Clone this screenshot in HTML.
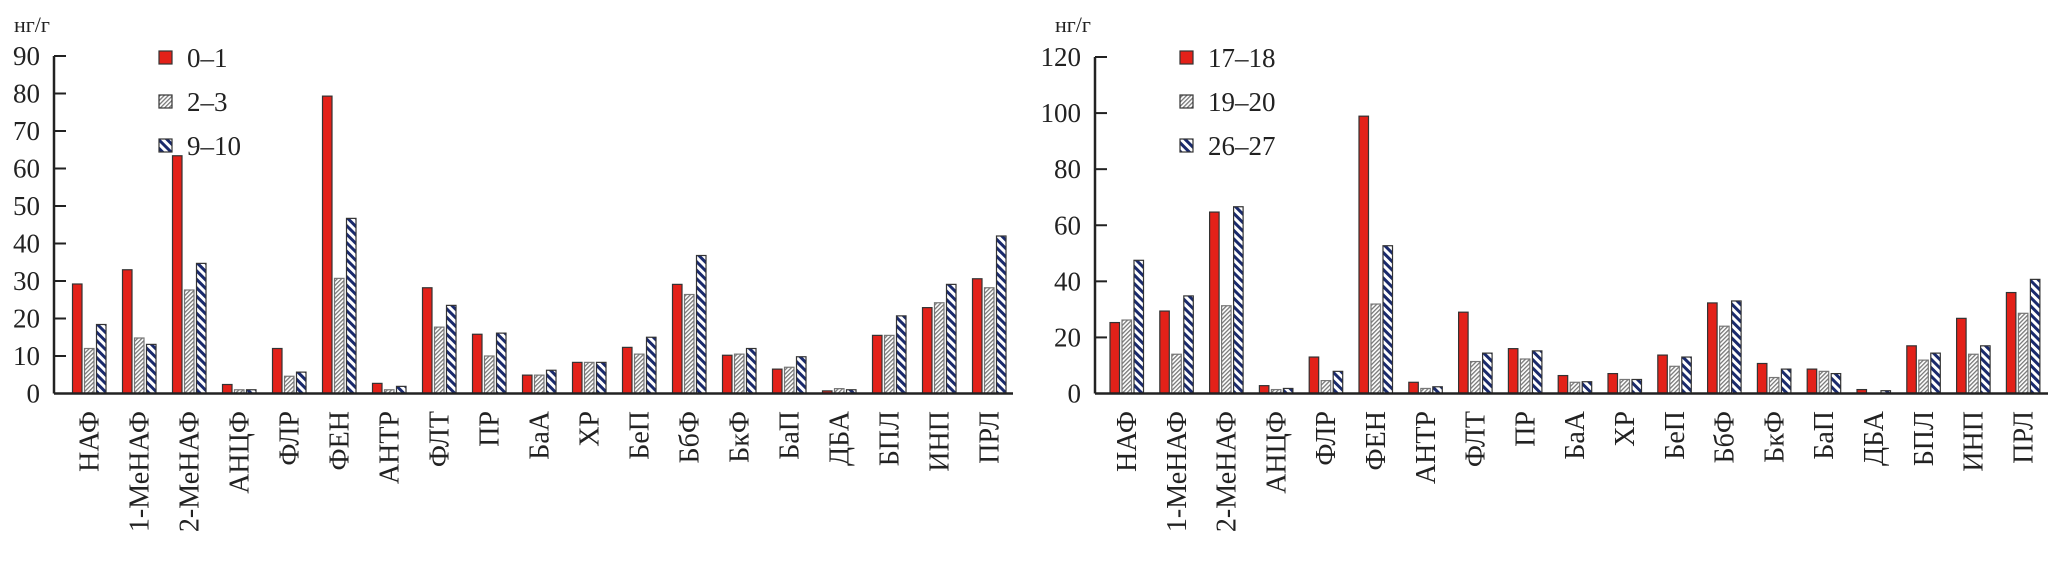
<!DOCTYPE html>
<html><head><meta charset="utf-8"><style>
html,body{margin:0;padding:0;background:#fff;}
svg text{font-family:"Liberation Serif","Times New Roman",serif;fill:#222;}
</style></head><body>
<svg id="chart" width="2053" height="561" xmlns="http://www.w3.org/2000/svg" font-family="Liberation Serif, serif">
<defs>
<pattern id="pg" patternUnits="userSpaceOnUse" width="3" height="3" patternTransform="rotate(45)">
<rect width="3" height="3" fill="#fff"/><rect width="1.3" height="3" fill="#777"/></pattern>
<pattern id="pb" patternUnits="userSpaceOnUse" width="6" height="6" patternTransform="rotate(-45)">
<rect width="6" height="6" fill="#fff"/><rect width="3" height="6" fill="#1a2a6c"/></pattern>
</defs>
</svg>
<script>
const categories = ["НАФ","1-МеНАФ","2-МеНАФ","АНЦФ","ФЛР","ФЕН","АНТР","ФЛТ","ПР","БаА","ХР","БеП","БбФ","БкФ","БаП","ДБА","БПЛ","ИНП","ПРЛ"];
const leftSeriesNames = ["0–1","2–3","9–10"];
const left01 = [29.2,33,63.4,2.4,12,79.3,2.7,28.2,15.8,4.9,8.3,12.3,29.1,10.2,6.5,0.7,15.5,22.9,30.6];
const left23 = [12,14.8,27.6,1,4.6,30.7,1,17.7,10,4.9,8.3,10.5,26.4,10.5,7,1.3,15.5,24.2,28.2];
const left910 = [18.4,13.1,34.7,1,5.7,46.7,1.9,23.5,16.1,6.2,8.3,15,36.8,12,9.8,1,20.7,29.1,42];
const leftTicks = [0,10,20,30,40,50,60,70,80,90];
const rightSeriesNames = ["17–18","19–20","26–27"];
const right1718 = [25.3,29.4,64.7,2.8,13,98.9,4,29,16,6.4,7.1,13.7,32.3,10.7,8.7,1.4,17,26.8,36];
const right1920 = [26.2,14,31.3,1.4,4.6,31.9,1.8,11.4,12.3,4,5,9.7,24,5.7,7.9,0,11.9,14,28.6];
const right2627 = [47.5,34.8,66.6,1.8,7.9,52.7,2.4,14.4,15.2,4.2,5,13,33,8.7,7.1,1,14.4,17,40.7];
const rightTicks = [0,20,40,60,80,100,120];

const svg = document.getElementById('chart');
const NS = 'http://www.w3.org/2000/svg';
function mk(tag, attrs, parent){const e=document.createElementNS(NS,tag);for(const k in attrs)e.setAttribute(k,attrs[k]);(parent||svg).appendChild(e);return e;}
const fills = ["#e32119","url(#pg)","url(#pb)"];
const strokes = ["#333","#777","#333"];
const FF = 'Liberation Serif, serif';

function drawChart(cfg){
  const g = mk('g',{'font-family':FF});
  
  
  const y = v => cfg.y0 - (v - 0) / cfg.max * (cfg.y0 - cfg.yTop);
  const x = i => cfg.x0 + i * cfg.pitch;
  const u = mk('text',{x:cfg.axisX-40,y:32,'font-size':22,'font-family':FF},g); u.textContent='нг/г';
  
  
  cfg.series.forEach((s, si) => {
    s.forEach((v, i) => {
      if (v <= 0) return;
      const r = mk('rect',{x:x(i)+si*12, y:y(v), width:9.5, height:cfg.y0-y(v), fill:fills[si], stroke:strokes[si], 'stroke-width':1.2},g);
      
      
    });
  });
  const ya = mk('line',{x1:cfg.axisX,y1:cfg.yTop,x2:cfg.axisX,y2:cfg.y0,stroke:'#222','stroke-width':2.5},g);
  
  
  const xa = mk('line',{x1:cfg.axisX,y1:cfg.y0,x2:cfg.axisEnd,y2:cfg.y0,stroke:'#222','stroke-width':2.5},g);
  
  
  cfg.ticks.forEach(t => {
    mk('line',{x1:cfg.axisX,y1:y(t),x2:cfg.axisX+12,y2:y(t),stroke:'#222','stroke-width':2},g);
    const tl = mk('text',{x:cfg.axisX-14,y:y(t)+9,'font-size':27,'text-anchor':'end','font-family':FF},g);
    tl.textContent = t;
    
    
  });
  categories.forEach((c, i) => {
    const cx = x(i) + 17 + 9;
    const t = mk('text',{x:0,y:0,'font-size':28,'text-anchor':'end','font-family':FF,transform:`translate(${cx},411) rotate(-90)`},g);
    t.textContent = c;
    
    
  });
  cfg.names.forEach((n, si) => {
    const ly = 51 + si * 44;
    const r = mk('rect',{x:cfg.legX,y:ly,width:13,height:13,fill:fills[si],stroke:'#333','stroke-width':1.2},g);
    
    
    const t = mk('text',{x:cfg.legX+28,y:ly+16,'font-size':27,'font-family':FF},g);
    t.textContent = n;
    
    
  });
}
drawChart({name:'left-chart',axisX:54,axisEnd:1013,x0:72.5,pitch:50,y0:393.5,yTop:56,max:90,ticks:leftTicks,series:[left01,left23,left910],names:leftSeriesNames,legX:159});
drawChart({name:'right-chart',axisX:1095,axisEnd:2048,x0:1110,pitch:49.8,y0:393.5,yTop:57,max:120,ticks:rightTicks,series:[right1718,right1920,right2627],names:rightSeriesNames,legX:1180});
</script>
</body></html>
